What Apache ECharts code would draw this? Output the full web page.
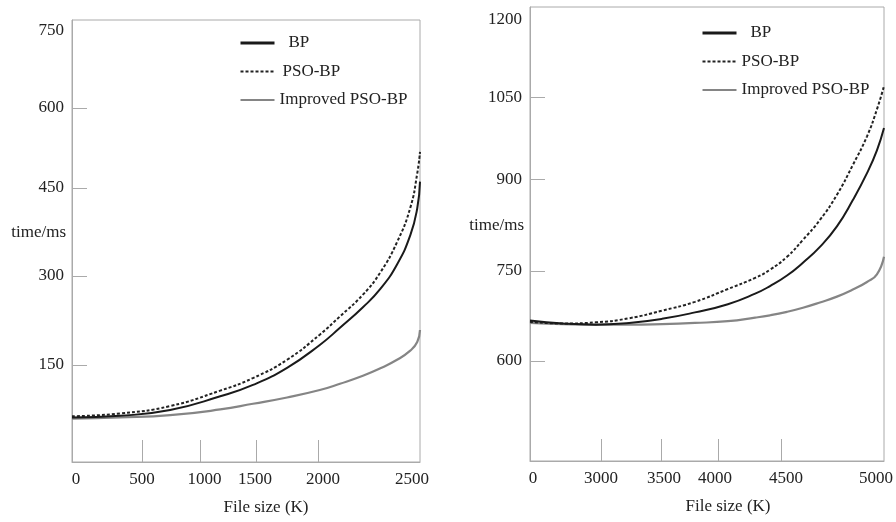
<!DOCTYPE html>
<html>
<head>
<meta charset="utf-8">
<style>
  html, body { margin: 0; padding: 0; background: #fff; }
  #chart { width: 896px; height: 522px; }
</style>
<script src="https://cdn.jsdelivr.net/npm/echarts@6/dist/echarts.min.js"></script>
</head>
<body>
<div id="chart"></div>
<script>
// left panel (file size up to 2500K)
const leftX = [0, 345, 705, 1065, 1300, 1545, 1780, 1925, 2090, 2215, 2335, 2430, 2480, 2500];
const leftBP = [58, 61, 71, 95, 115, 145, 185, 215, 251, 283, 326, 377, 424, 471];
const leftPSO = [60, 65, 78, 105, 127, 159, 203, 235, 273, 312, 365, 425, 485, 523];
const leftImp = [56, 58, 62, 72, 82, 93, 106, 117, 131, 144, 159, 175, 190, 211];

// right panel (file size up to 5000K)
const rightX = [0, 465, 930, 1400, 1865, 2330, 2795, 3180, 3390, 3630, 3855, 4095, 4335, 4560, 4760, 4900, 5000];
const rightBP = [669, 664, 662, 665, 672, 683, 697, 715, 728, 746, 768, 795, 830, 875, 921, 960, 998];
const rightPSO = [667, 664, 666, 673, 686, 701, 723, 742, 756, 778, 807, 841, 884, 935, 984, 1030, 1070];
const rightImp = [665, 663, 662, 662, 663, 665, 668, 674, 678, 684, 691, 700, 710, 722, 735, 748, 778];

// tick labels and where they sit on the (uneven) axes of the original figure
const leftXLabels = ['0', '500', '1000', '1500', '2000', '2500'];
const leftXLabelAt = [29, 503, 952, 1315, 1803, 2442];
const leftXTickAt = [503, 920, 1322, 1767];
const leftYLabels = ['150', '300', '450', '600', '750'];
const leftYLabelAt = [150, 306, 460, 600, 736];
const leftYTickAt = [150, 306, 460, 600];

const rightXLabels = ['0', '3000', '3500', '4000', '4500', '5000'];
const rightXLabelAt = [42, 1003, 1893, 2613, 3616, 4887];
const rightXTickAt = [1003, 1850, 2655, 3545];
const rightYLabels = ['600', '750', '900', '1050', '1200'];
const rightYLabelAt = [600, 754, 910, 1050, 1183];
const rightYTickAt = [600, 754, 910, 1050];

const seriesNames = ['BP', 'PSO-BP', 'Improved PSO-BP'];

const FONT = 'Liberation Serif';
const TEXT = '#222';
const FRAME = '#aaa';

const zip = (xs, ys) => xs.map((x, i) => [x, ys[i]]);
const lookup = (labels, at) => v => {
  const i = at.indexOf(v);
  return i < 0 ? '' : labels[i];
};

function xAxis(idx, max, labels, labelAt, tickAt, namePad) {
  return {
    type: 'value',
    gridIndex: idx,
    min: 0,
    max: max,
    name: 'File size (K)',
    nameLocation: 'middle',
    nameGap: 37,
    nameMoveOverlap: false,
    nameTextStyle: { fontFamily: FONT, fontSize: 17, color: TEXT, padding: [0, 0, 0, namePad] },
    axisLine: { show: true, onZero: false, lineStyle: { color: FRAME } },
    axisTick: { show: true, inside: true, length: 22, customValues: tickAt, lineStyle: { color: FRAME } },
    axisLabel: {
      customValues: labelAt,
      formatter: lookup(labels, labelAt),
      margin: 9,
      fontFamily: FONT,
      fontSize: 17,
      color: TEXT
    },
    splitLine: { show: false }
  };
}

function yAxis(idx, min, max, labels, labelAt, tickAt) {
  return {
    type: 'value',
    gridIndex: idx,
    min: min,
    max: max,
    name: 'time/ms',
    nameLocation: 'middle',
    nameRotate: 0,
    nameGap: 6,
    nameMoveOverlap: false,
    nameTextStyle: { fontFamily: FONT, fontSize: 17, color: TEXT, verticalAlign: 'bottom' },
    axisLine: { show: true, onZero: false, lineStyle: { color: FRAME } },
    axisTick: { show: true, inside: true, length: 15, customValues: tickAt, lineStyle: { color: FRAME } },
    axisLabel: {
      customValues: labelAt,
      formatter: lookup(labels, labelAt),
      margin: 8,
      fontFamily: FONT,
      fontSize: 17,
      color: TEXT
    },
    splitLine: { show: false }
  };
}

function legend(left, top, psoPad) {
  return {
    orient: 'vertical',
    left: left,
    top: top,
    itemWidth: 34,
    itemHeight: 14,
    itemGap: 10.5,
    itemStyle: { opacity: 0 },
    textStyle: { fontFamily: FONT, fontSize: 17, color: TEXT, lineHeight: 18 },
    data: [
      { name: 'BP', lineStyle: { width: 3 }, textStyle: { padding: [0, 0, 0, 9] } },
      { name: 'PSO-BP', textStyle: { padding: [0, 0, 0, psoPad] } },
      { name: 'Improved PSO-BP' }
    ]
  };
}

const lineStyles = [
  { color: '#1a1a1a', width: 2, type: 'solid' },
  { color: '#222', width: 2, type: [3, 2] },
  { color: '#858585', width: 2.2, type: 'solid' }
];

function series(idx, xs, ysList) {
  return ysList.map((ys, k) => ({
    name: seriesNames[k],
    type: 'line',
    xAxisIndex: idx,
    yAxisIndex: idx,
    data: zip(xs, ys),
    smooth: true,
    showSymbol: false,
    symbol: 'circle',
    color: lineStyles[k].color,
    lineStyle: lineStyles[k],
    z: 3 - k
  }));
}

const chart = echarts.init(document.getElementById('chart'));
chart.setOption({
  backgroundColor: '#fff',
  animation: false,
  legend: [legend(234, 29, 3), legend(696, 19, 0)],
  grid: [
    { left: 72, top: 20, width: 348, height: 442, outerBoundsMode: 'none', show: true, borderColor: FRAME, borderWidth: 1 },
    { left: 530, top: 7, width: 354, height: 454, outerBoundsMode: 'none', show: true, borderColor: FRAME, borderWidth: 1 }
  ],
  xAxis: [
    xAxis(0, 2500, leftXLabels, leftXLabelAt, leftXTickAt, 40),
    xAxis(1, 5000, rightXLabels, rightXLabelAt, rightXTickAt, 42)
  ],
  yAxis: [
    yAxis(0, -20, 754, leftYLabels, leftYLabelAt, leftYTickAt),
    yAxis(1, 429, 1205, rightYLabels, rightYLabelAt, rightYTickAt)
  ],
  series: [
    ...series(0, leftX, [leftBP, leftPSO, leftImp]),
    ...series(1, rightX, [rightBP, rightPSO, rightImp])
  ]
});
</script>
</body>
</html>
